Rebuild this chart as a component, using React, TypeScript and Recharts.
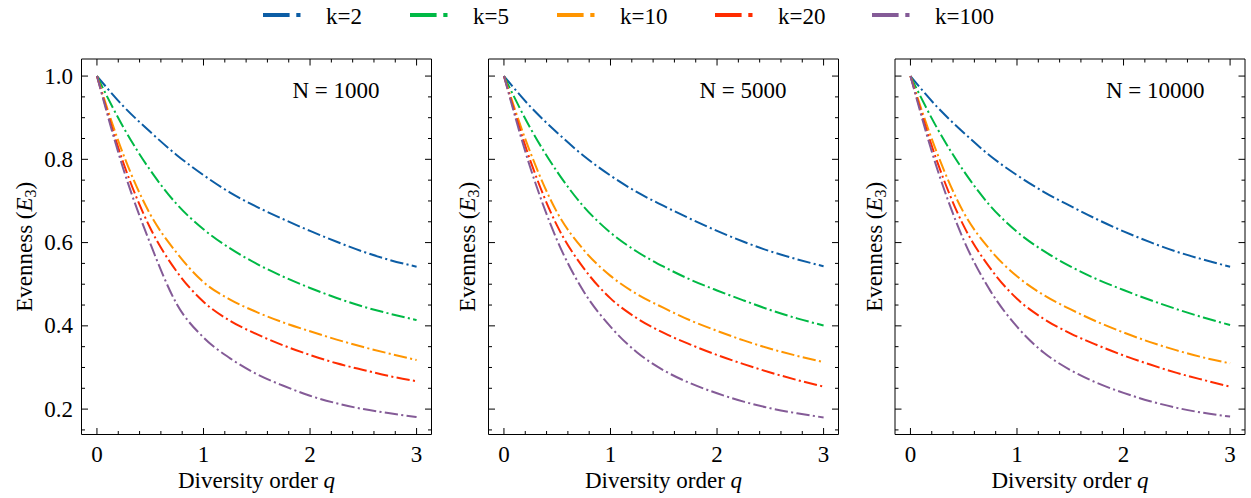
import { Line, LineChart, XAxis, YAxis } from "recharts";

const Q_VALUES = [0, 0.25, 0.5, 0.75, 1, 1.25, 1.5, 1.75, 2, 2.25, 2.5, 2.75, 3];

// N = 1000
const N1000_K2 = [1.0, 0.927, 0.866, 0.81, 0.762, 0.72, 0.686, 0.656, 0.628, 0.602, 0.578, 0.558, 0.542];
const N1000_K5 = [1.0, 0.876, 0.774, 0.692, 0.632, 0.586, 0.549, 0.518, 0.491, 0.467, 0.446, 0.429, 0.414];
const N1000_K10 = [1.0, 0.81, 0.668, 0.575, 0.505, 0.463, 0.433, 0.408, 0.387, 0.367, 0.349, 0.333, 0.318];
const N1000_K20 = [1.0, 0.79, 0.635, 0.53, 0.458, 0.412, 0.38, 0.353, 0.33, 0.31, 0.294, 0.279, 0.267];
const N1000_K100 = [1.0, 0.775, 0.598, 0.452, 0.372, 0.322, 0.284, 0.256, 0.232, 0.214, 0.2, 0.19, 0.181];

// N = 5000
const N5000_K2 = [1.0, 0.926, 0.864, 0.808, 0.761, 0.721, 0.688, 0.657, 0.628, 0.602, 0.579, 0.56, 0.543];
const N5000_K5 = [1.0, 0.874, 0.77, 0.686, 0.624, 0.578, 0.542, 0.511, 0.485, 0.461, 0.438, 0.418, 0.401];
const N5000_K10 = [1.0, 0.815, 0.672, 0.582, 0.52, 0.476, 0.443, 0.413, 0.388, 0.365, 0.345, 0.328, 0.313];
const N5000_K20 = [1.0, 0.795, 0.64, 0.538, 0.466, 0.418, 0.383, 0.355, 0.33, 0.308, 0.288, 0.27, 0.254];
const N5000_K100 = [1.0, 0.778, 0.605, 0.482, 0.398, 0.336, 0.293, 0.262, 0.238, 0.218, 0.202, 0.19, 0.18];

// N = 10000
const N10000_K2 = [1.0, 0.926, 0.864, 0.808, 0.762, 0.722, 0.688, 0.656, 0.627, 0.601, 0.578, 0.559, 0.542];
const N10000_K5 = [1.0, 0.875, 0.772, 0.688, 0.626, 0.58, 0.543, 0.512, 0.486, 0.462, 0.44, 0.42, 0.402];
const N10000_K10 = [1.0, 0.815, 0.672, 0.582, 0.519, 0.474, 0.44, 0.41, 0.384, 0.361, 0.341, 0.324, 0.31];
const N10000_K20 = [1.0, 0.795, 0.64, 0.538, 0.465, 0.417, 0.382, 0.354, 0.329, 0.307, 0.287, 0.27, 0.254];
const N10000_K100 = [1.0, 0.778, 0.606, 0.484, 0.398, 0.336, 0.294, 0.263, 0.239, 0.219, 0.203, 0.191, 0.182];

const SERIES_KEYS = ["k2", "k5", "k10", "k20", "k100"];
const SERIES_LABELS = ["k=2", "k=5", "k=10", "k=20", "k=100"];
const PANEL_TITLES = ["N = 1000", "N = 5000", "N = 10000"];

const X_MAJOR = [0, 1, 2, 3];
const X_TICKS = [0, 0.2, 0.4, 0.6, 0.8, 1, 1.2, 1.4, 1.6, 1.8, 2, 2.2, 2.4, 2.6, 2.8, 3];
const Y_MAJOR = [0.2, 0.4, 0.6, 0.8, 1.0];
const Y_TICKS = [
  0.15, 0.2, 0.25, 0.3, 0.35, 0.4, 0.45, 0.5, 0.55, 0.6, 0.65, 0.7, 0.75, 0.8, 0.85, 0.9, 0.95, 1.0,
];

const COLORS = ["#0C5DA5", "#00B945", "#FF9500", "#FF2C00", "#845B97"];

const W = 1251;
const H = 498;
const PLOT_TOP = 59;
const PLOT_BOTTOM = 434.5;
const PLOT_W = 350;
const FONT = "'Liberation Serif', 'DejaVu Serif', serif";
const FS = 23;
const DASH = "13.3 3.3 2.1 3.3";
const X_DOMAIN = [-0.145, 3.14];
const Y_DOMAIN = [0.139, 1.041];

const PANELS = [
  { left: 81.5, rows: [N1000_K2, N1000_K5, N1000_K10, N1000_K20, N1000_K100], yLabels: true, yTitleX: 31.5 },
  { left: 488.5, rows: [N5000_K2, N5000_K5, N5000_K10, N5000_K20, N5000_K100], yLabels: false, yTitleX: 474.5 },
  { left: 895, rows: [N10000_K2, N10000_K5, N10000_K10, N10000_K20, N10000_K100], yLabels: false, yTitleX: 881.5 },
];

const LEGEND_X = [263, 410, 557, 715, 872];

const near = (v: number, list: number[]) => list.some((m) => Math.abs(m - v) < 1e-6);

const makeTick = (side: string, showLabel: boolean) => (props: any) => {
  const { x, y, payload } = props;
  const v = payload.value as number;
  const horiz = side === "bottom" || side === "top";
  const major = near(v, horiz ? X_MAJOR : Y_MAJOR);
  const len = major ? 6.5 : 3.5;
  let x2 = x;
  let y2 = y;
  if (side === "bottom") y2 = y - len;
  if (side === "top") y2 = y + len;
  if (side === "left") x2 = x + len;
  if (side === "right") x2 = x - len;
  return (
    <g>
      <line x1={x} y1={y} x2={x2} y2={y2} stroke="#000" strokeWidth={1} />
      {showLabel && major && side === "bottom" && (
        <text x={x} y={y + 27.5} textAnchor="middle" fontFamily={FONT} fontSize={FS} fill="#000">
          {v}
        </text>
      )}
      {showLabel && major && side === "left" && (
        <text x={x - 8.5} y={y + 7.5} textAnchor="end" fontFamily={FONT} fontSize={FS} fill="#000">
          {v.toFixed(1)}
        </text>
      )}
    </g>
  );
};

const Panel = ({ left, rows, yLabels }: { left: number; rows: number[][]; yLabels: boolean }) => {
  const data = Q_VALUES.map((q, i) => {
    const row: Record<string, number> = { q };
    SERIES_KEYS.forEach((k, j) => {
      row[k] = rows[j][i];
    });
    return row;
  });

  const axisLine = { stroke: "#000", strokeWidth: 1 };

  // every axis takes 1px, so the margins are 1px smaller than the frame position
  return (
    <div style={{ position: "absolute", left: 0, top: 0 }}>
      <LineChart
        width={W}
        height={H}
        data={data}
        margin={{
          top: PLOT_TOP - 1,
          bottom: H - PLOT_BOTTOM - 1,
          left: left - 1,
          right: W - left - PLOT_W - 1,
        }}
      >
        <XAxis
          xAxisId="b"
          type="number"
          dataKey="q"
          domain={X_DOMAIN}
          allowDataOverflow
          ticks={X_TICKS}
          interval={0}
          height={1}
          tickSize={0}
          tickMargin={0}
          tickLine={false}
          axisLine={axisLine}
          tick={makeTick("bottom", true)}
        />
        <XAxis
          xAxisId="t"
          orientation="top"
          type="number"
          dataKey="q"
          domain={X_DOMAIN}
          allowDataOverflow
          ticks={X_TICKS}
          interval={0}
          height={1}
          tickSize={0}
          tickMargin={0}
          tickLine={false}
          axisLine={axisLine}
          tick={makeTick("top", false)}
        />
        <YAxis
          yAxisId="l"
          type="number"
          domain={Y_DOMAIN}
          allowDataOverflow
          ticks={Y_TICKS}
          interval={0}
          width={1}
          tickSize={0}
          tickMargin={0}
          tickLine={false}
          axisLine={axisLine}
          tick={makeTick("left", yLabels)}
        />
        <YAxis
          yAxisId="r"
          orientation="right"
          type="number"
          domain={Y_DOMAIN}
          allowDataOverflow
          ticks={Y_TICKS}
          interval={0}
          width={1}
          tickSize={0}
          tickMargin={0}
          tickLine={false}
          axisLine={axisLine}
          tick={makeTick("right", false)}
        />
        {SERIES_KEYS.map((k, j) => (
          <Line
            key={k}
            xAxisId="b"
            yAxisId="l"
            type="monotone"
            dataKey={k}
            stroke={COLORS[j]}
            strokeWidth={2}
            strokeDasharray={DASH}
            dot={false}
            activeDot={false}
            isAnimationActive={false}
          />
        ))}
      </LineChart>
    </div>
  );
};

const Overlay = () => {
  const midY = (PLOT_TOP + PLOT_BOTTOM) / 2;
  return (
    <svg
      width={W}
      height={H}
      style={{ position: "absolute", left: 0, top: 0, pointerEvents: "none" }}
      fontFamily={FONT}
      fontSize={FS}
    >
      {SERIES_LABELS.map((label, j) => (
        <g key={label}>
          <line
            x1={LEGEND_X[j]}
            x2={LEGEND_X[j] + 40}
            y1={15}
            y2={15}
            stroke={COLORS[j]}
            strokeWidth={4.2}
            strokeDasharray="26.6 6.7 4.2 6.7"
          />
          <text x={LEGEND_X[j] + 63} y={23.5} fill="#000">
            {label}
          </text>
        </g>
      ))}
      {PANELS.map((p, i) => (
        <g key={i}>
          <text x={p.left + 211} y={98} fill="#000">
            {PANEL_TITLES[i]}
          </text>
          <text x={p.left + PLOT_W / 2} y={488} textAnchor="middle" fill="#000">
            Diversity order <tspan fontStyle="italic">q</tspan>
          </text>
          <text
            transform={`translate(${p.yTitleX},${midY}) rotate(-90)`}
            textAnchor="middle"
            fill="#000"
          >
            Evenness (<tspan fontStyle="italic">E</tspan>
            <tspan fontSize={16} dy={4}>
              3
            </tspan>
            <tspan dy={-4}>)</tspan>
          </text>
        </g>
      ))}
    </svg>
  );
};

export default function App() {
  return (
    <div style={{ position: "absolute", left: 0, top: 0, width: W, height: H, background: "#fff" }}>
      {PANELS.map((p, i) => (
        <Panel key={i} left={p.left} rows={p.rows} yLabels={p.yLabels} />
      ))}
      <Overlay />
    </div>
  );
}
